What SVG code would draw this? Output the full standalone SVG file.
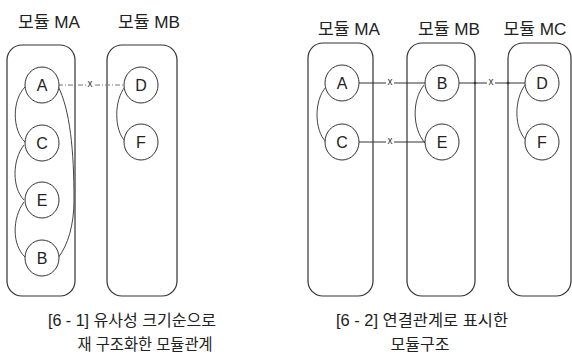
<svg xmlns="http://www.w3.org/2000/svg" width="572" height="358" viewBox="0 0 572 358">
<style>
.box{fill:none;stroke:#333;stroke-width:1.2}
.nd{fill:#fff;stroke:#333;stroke-width:1}
.lb{font-family:"Liberation Sans",Arial,sans-serif;font-size:16px;fill:#222;text-anchor:middle}
.hd{font-family:"Liberation Sans","Noto Sans CJK KR",sans-serif;font-size:17px;fill:#222;text-anchor:middle}
.cp{font-family:"Liberation Sans","Noto Sans CJK KR",sans-serif;font-size:16px;fill:#222;text-anchor:middle}
.x{font-family:"Liberation Sans",Arial,sans-serif;font-size:10px;fill:#333;text-anchor:middle}
.cv{fill:none;stroke:#444;stroke-width:1}
.ln{fill:none;stroke:#333;stroke-width:1}
.dl{fill:none;stroke:#777;stroke-width:1;stroke-dasharray:5 2 1 2}
</style>
<rect width="572" height="358" fill="#fff"/>

<!-- Left figure -->
<g id="left-modules">
<g id="L-MA"><rect class="box" x="7" y="45" width="68" height="251" rx="15"/><text class="hd" x="49" y="28" textLength="62" lengthAdjust="spacingAndGlyphs">모듈 MA</text></g>
<g id="L-MB"><rect class="box" x="107" y="45" width="70" height="251" rx="15"/><text class="hd" x="149" y="28" textLength="62" lengthAdjust="spacingAndGlyphs">모듈 MB</text></g>
</g>
<g id="L-connectors">
<path class="dl" d="M58 85H86M95 85H124"/>
<text class="x" x="90" y="87">x</text>
<path class="cv" d="M25 87C12 100 12 130 25 142"/>
<path class="cv" d="M24 145C12 160 12 188 24 200"/>
<path class="cv" d="M24 202C12 218 12 245 25 257"/>
<path class="cv" d="M58 86C70 110 74 150 74 200C74 225 68 245 58 258"/>
<path class="cv" d="M125 87C114 100 114 130 125 141"/>
</g>
<g id="L-A"><ellipse class="nd" cx="42" cy="85" rx="17" ry="18"/><text class="lb" x="42" y="91">A</text></g>
<g id="L-C"><ellipse class="nd" cx="42" cy="143" rx="17" ry="18"/><text class="lb" x="42" y="149">C</text></g>
<g id="L-E"><ellipse class="nd" cx="42" cy="200" rx="17" ry="18"/><text class="lb" x="42" y="206">E</text></g>
<g id="L-B"><ellipse class="nd" cx="42" cy="258" rx="17" ry="18"/><text class="lb" x="42" y="264">B</text></g>
<g id="L-D"><ellipse class="nd" cx="141" cy="85" rx="17" ry="18"/><text class="lb" x="141" y="91">D</text></g>
<g id="L-F"><ellipse class="nd" cx="141" cy="142" rx="17" ry="18"/><text class="lb" x="141" y="148">F</text></g>
<g id="L-caption">
<text class="cp" x="132" y="326" textLength="168" lengthAdjust="spacingAndGlyphs">[6 - 1] 유사성 크기순으로</text>
<text class="cp" x="145" y="350" textLength="135" lengthAdjust="spacingAndGlyphs">재 구조화한 모듈관계</text>
</g>

<!-- Right figure -->
<g id="right-modules">
<g id="R-MA"><rect class="box" x="308" y="43" width="65" height="253" rx="15"/><text class="hd" x="349" y="35" textLength="62" lengthAdjust="spacingAndGlyphs">모듈 MA</text></g>
<g id="R-MB"><rect class="box" x="407" y="43" width="68" height="253" rx="15"/><text class="hd" x="449" y="35" textLength="62" lengthAdjust="spacingAndGlyphs">모듈 MB</text></g>
<g id="R-MC"><rect class="box" x="508" y="43" width="63" height="253" rx="15"/><text class="hd" x="535" y="35" textLength="63" lengthAdjust="spacingAndGlyphs">모듈 MC</text></g>
</g>
<g id="R-connectors">
<path class="ln" d="M359 83H386M394 83H425"/>
<text class="x" x="390" y="85">x</text>
<path class="ln" d="M359 142H386M394 142H425"/>
<text class="x" x="390" y="144">x</text>
<path class="ln" d="M459 83H487M495 83H525"/>
<text class="x" x="491" y="85">x</text>
<circle cx="475" cy="83" r="1.3" fill="#333"/>
<circle cx="508" cy="83" r="1.3" fill="#333"/>
<path class="cv" d="M326 87C314 100 314 130 326 142"/>
<path class="cv" d="M424 85C412 100 412 128 425 143"/>
<path class="cv" d="M525 85C514 100 514 128 526 140"/>
</g>
<g id="R-A"><ellipse class="nd" cx="342" cy="83" rx="17" ry="18"/><text class="lb" x="342" y="89">A</text></g>
<g id="R-C"><ellipse class="nd" cx="342" cy="142" rx="17" ry="18"/><text class="lb" x="342" y="148">C</text></g>
<g id="R-B"><ellipse class="nd" cx="442" cy="83" rx="17" ry="18"/><text class="lb" x="442" y="89">B</text></g>
<g id="R-E"><ellipse class="nd" cx="442" cy="142" rx="17" ry="18"/><text class="lb" x="442" y="148">E</text></g>
<g id="R-D"><ellipse class="nd" cx="542" cy="83" rx="17" ry="18"/><text class="lb" x="542" y="89">D</text></g>
<g id="R-F"><ellipse class="nd" cx="542" cy="142" rx="17" ry="18"/><text class="lb" x="542" y="148">F</text></g>
<g id="R-caption">
<text class="cp" x="422" y="326" textLength="172" lengthAdjust="spacingAndGlyphs">[6 - 2] 연결관계로 표시한</text>
<text class="cp" x="420" y="350">모듈구조</text>
</g>
</svg>
